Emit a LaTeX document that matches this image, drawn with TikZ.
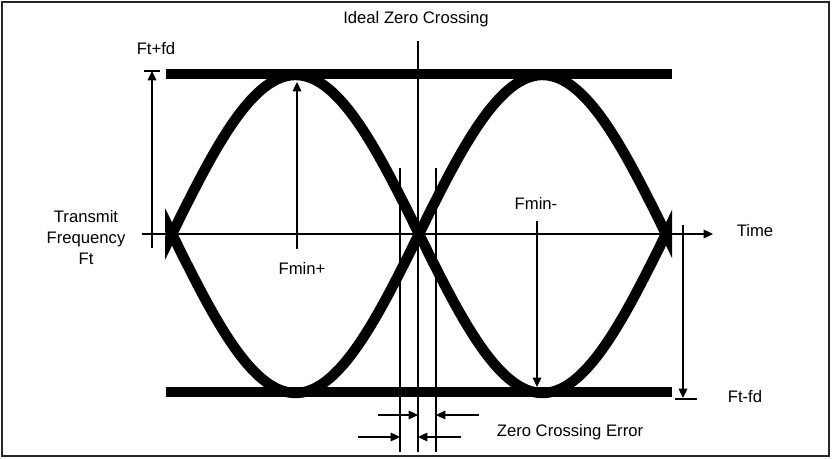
\documentclass[tikz,border=0pt]{standalone}
\usepackage{fontspec}
\setmainfont{Liberation Sans}
\usetikzlibrary{arrows.meta,positioning}

\begin{document}
\begin{tikzpicture}[x=0.75pt,y=-0.75pt,>={Triangle[length=7pt,width=6.5pt]},
 thinline/.style={line width=0.9pt},
 rail/.style={line width=6.8pt},
 eye/.style={line width=7.8pt,line join=round},
 every node/.style={font=\fontsize{12.5}{15.75}\selectfont,inner sep=0pt,anchor=base}]
\useasboundingbox (0,0) rectangle (832,459);
\draw[line width=1.5pt,black!85] (2,2) rectangle (829,456);
% rails at Ft+fd and Ft-fd
\coordinate (r1) at (166,74); \coordinate (r2) at (672,74);
\coordinate (r3) at (166,392); \coordinate (r4) at (672,392);
\draw[rail] (r1) -- (r2);
\draw[rail] (r3) -- (r4);
% eye pattern
\begin{scope}
\clip (165,0) rectangle (672,459);
\foreach \s in {1,-1}{\draw[eye] plot[domain=150:690,samples=150] (\x,{234-\s*159*sin((\x-419)/247*180)});}
\end{scope}
% time axis
\coordinate (t0) at (142,234); \coordinate (t1) at (713,234);
\draw[->,thinline] (t0) -- (t1);
% zero crossing lines
\coordinate (z0) at (418,41); \coordinate (z1) at (418,452);
\coordinate (e0) at (400,168); \coordinate (e1) at (400,452);
\coordinate (l0) at (436,168); \coordinate (l1) at (436,452);
\draw[thinline] (z0) -- (z1);
\draw[thinline] (e0) -- (e1);
\draw[thinline] (l0) -- (l1);
\coordinate (a1) at (378,415); \coordinate (a2) at (479,415);
\coordinate (a3) at (358,437); \coordinate (a4) at (461,437);
\draw[->,thinline] (a1) -- (a1 -| z0);
\draw[->,thinline] (a2) -- (a2 -| l0);
\draw[->,thinline] (a3) -- (a3 -| e0);
\draw[->,thinline] (a4) -- (a4 -| z0);
% deviation arrows
\coordinate (u0) at (152,248); \coordinate (u1) at (152,71);
\draw[->,thinline] (u0) -- (u1);
\draw[line width=1.5pt] ([xshift=-6pt]u1) -- ([xshift=6pt]u1);
\coordinate (d0) at (683,225); \coordinate (d1) at (683,398);
\draw[->,thinline] (d0) -- (d1);
\draw[line width=1.5pt] ([xshift=-6pt,yshift=-0.8pt]d1) -- ([xshift=10.5pt,yshift=-0.8pt]d1);
\coordinate (p0) at (297,249); \coordinate (p1) at (297,82);
\draw[->,thinline] (p0) -- (p1);
\coordinate (m0) at (537,221); \coordinate (m1) at (537,387);
\draw[->,thinline] (m0) -- (m1);
% labels
\node (ideal) at (416,24) {Ideal Zero Crossing};
\node (fplus) at (156,55) {Ft+fd};
\node[align=center] (tx) at (86,265) {Transmit\\Frequency\\Ft};
\node (fminp) at (302,275) {Fmin+};
\node (fminm) at (536,210) {Fmin-};
\node (time) at (755,237) {Time};
\node (fminus) at (745,403) {Ft-fd};
\node (zce) at (570,437) {Zero Crossing Error};
\end{tikzpicture}
\end{document}
